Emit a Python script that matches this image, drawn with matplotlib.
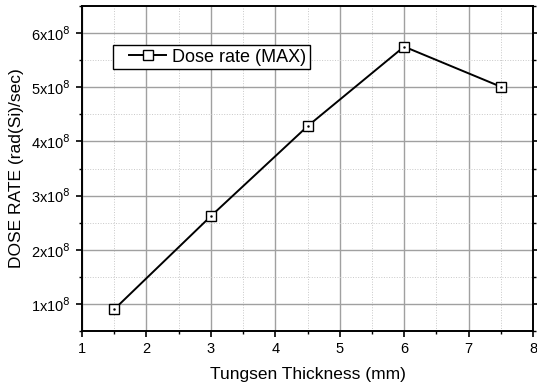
import matplotlib
matplotlib.use("Agg")
import numpy as np
import matplotlib.pyplot as plt
from matplotlib.ticker import MultipleLocator, FuncFormatter
from matplotlib.legend_handler import HandlerLine2D

plt.rcParams['font.family'] = ['Liberation Sans', 'DejaVu Sans']

thickness = [1.5, 3.0, 4.5, 6.0, 7.5]
dose_rate = [0.90e8, 2.62e8, 4.28e8, 5.75e8, 5.01e8]


class InsetLineHandler(HandlerLine2D):
    """Legend line that starts a little to the right of the handle box."""
    def __init__(self, inset=9, **kw):
        super().__init__(**kw)
        self.inset = inset

    def create_artists(self, legend, orig_handle, xdescent, ydescent,
                       width, height, fontsize, trans):
        arts = super().create_artists(legend, orig_handle, xdescent, ydescent,
                                      width, height, fontsize, trans)
        x0 = -xdescent
        for a in arts:
            x = np.asarray(a.get_xdata(), dtype=float)
            a.set_xdata(x0 + self.inset + (x - x0) * (width - self.inset) / width)
        return arts


fig = plt.figure(figsize=(5.37, 3.91), dpi=100)
ax = fig.add_axes([82/537, 1-331/391, (533-82)/537, (331-6)/391])

line, = ax.plot(thickness, dose_rate, color='black', lw=1.4, marker='s', ms=7,
                mfc='white', mec='black', mew=1.0, label='Dose rate (MAX)', zorder=3)
ax.plot(thickness, dose_rate, ls='none', marker='.', ms=1.5, color='black', zorder=4)

ax.set_xlim(1, 8)
ax.set_ylim(0.5e8, 6.5e8)
ax.xaxis.set_major_locator(MultipleLocator(1))
ax.xaxis.set_minor_locator(MultipleLocator(0.5))
ax.yaxis.set_major_locator(MultipleLocator(1e8))
ax.yaxis.set_minor_locator(MultipleLocator(0.5e8))

def sci(v, pos):
    n = int(round(v / 1e8))
    return r'%dx10$^{8}$' % n
ax.yaxis.set_major_formatter(FuncFormatter(sci))

ax.grid(which='major', color='#a0a0a0', lw=1.0, ls='-')
ax.grid(which='minor', color='#c8c8c8', lw=0.7, ls=':')
ax.set_axisbelow(True)

ax.tick_params(which='major', direction='out', length=4, width=1.2, labelsize=10.5, right=True, pad=4)
ax.tick_params(which='minor', direction='out', length=2.5, width=1.0, right=True)
for s in ax.spines.values():
    s.set_linewidth(1.4)

ax.set_xlabel('Tungsen Thickness (mm)', fontsize=12.5, labelpad=8)
ax.set_ylabel('DOSE RATE (rad(Si)/sec)', fontsize=12.5, labelpad=5)

leg = ax.legend(handles=[line], loc='upper left', bbox_to_anchor=(0.069, 0.88), fontsize=13,
                fancybox=False, framealpha=1, edgecolor='black', handlelength=2.75,
                borderpad=0.2, handletextpad=0.3, borderaxespad=0,
                handler_map={line: InsetLineHandler(inset=9)})
leg.get_frame().set_linewidth(1.0)

fig.savefig('out.png', dpi=100)
